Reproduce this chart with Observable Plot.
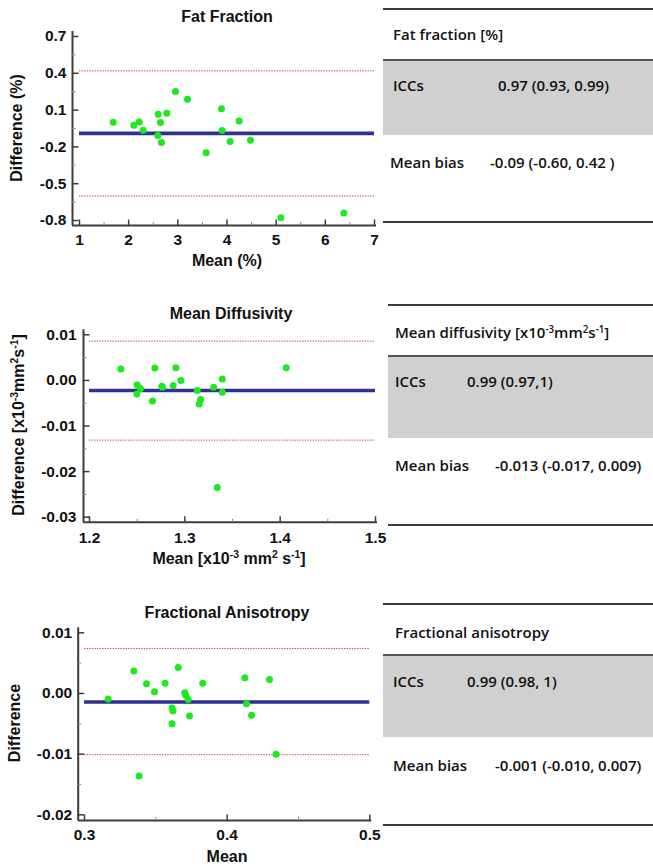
<!DOCTYPE html>
<html>
<head>
<meta charset="utf-8">
<script src="https://cdn.jsdelivr.net/npm/d3@7"></script>
<script src="https://cdn.jsdelivr.net/npm/@observablehq/plot@0.6"></script>
<style>
  html, body { margin: 0; padding: 0; background: #fff; }
  #root { position: relative; width: 653px; height: 866px; background: #fff; overflow: hidden; }
  .lbl { position: absolute; font-family: "Liberation Sans", Arial, sans-serif; font-weight: bold; color: #111; white-space: nowrap; transform: translate(-50%, -50%); }
  .rot { transform: translate(-50%, -50%) rotate(-90deg); }
  .tbl { position: absolute; font-family: "Open Sans", "Noto Sans", sans-serif; font-weight: 600; font-size: 15px; color: #111; white-space: nowrap; }
  .rule { position: absolute; height: 2px; background: #3a3a3a; }
  .band { position: absolute; background: #d0d0d0; border-top: 2px solid #555; box-sizing: border-box; }
  sup { font-size: 0.65em; vertical-align: 0.55em; line-height: 0; }
</style>
</head>
<body>
<div id="root"></div>
<script>
// ---------- Data ----------
// Fat fraction (%)
const ffMean = [1.685, 2.105, 2.214, 2.295, 2.600, 2.593, 2.647, 2.668, 2.776, 2.953, 3.197, 3.576, 3.888, 3.902, 4.064, 4.247, 4.478, 5.095, 6.376];
const ffDiff = [0.000, -0.023, 0.004, -0.064, 0.067, -0.107, -0.001, -0.164, 0.075, 0.252, 0.189, -0.248, 0.110, -0.066, -0.156, 0.012, -0.145, -0.778, -0.738];
const ffLines = {bias: -0.09, upper: 0.42, lower: -0.60};
const ffXTicks = [1, 2, 3, 4, 5, 6, 7];
const ffXMinor = [1.5, 2.5, 3.5, 4.5, 5.5, 6.5];
const ffYTicks = [0.7, 0.4, 0.1, -0.2, -0.5, -0.8];
const ffYMinor = [0.55, 0.25, -0.05, -0.35, -0.65];

// Mean diffusivity
const mdMean = [1.2329, 1.2500, 1.2497, 1.2535, 1.2661, 1.2686, 1.2759, 1.2766, 1.2878, 1.2906, 1.2959, 1.3130, 1.3165, 1.3151, 1.3302, 1.3393, 1.3393, 1.3340, 1.4064];
const mdDiff = [0.0025, -0.0010, -0.0030, -0.0018, -0.0045, 0.0027, -0.0013, -0.0015, -0.0011, 0.0028, 0.0000, -0.0022, -0.0042, -0.0052, -0.0015, 0.0003, -0.0026, -0.0235, 0.0028];
const mdLines = {bias: -0.0022, upper: 0.0086, lower: -0.0131};
const mdXTicks = [1.2, 1.3, 1.4, 1.5];
const mdXMinor = [1.25, 1.35, 1.45];
const mdYTicks = [0.01, 0.00, -0.01, -0.02, -0.03];
const mdYMinor = [0.005, -0.005, -0.015, -0.025];

// Fractional anisotropy
const faMean = [0.3166, 0.3346, 0.3383, 0.3435, 0.3491, 0.3565, 0.3614, 0.3621, 0.3614, 0.3657, 0.3703, 0.3710, 0.3727, 0.3736, 0.3829, 0.4124, 0.4136, 0.4171, 0.4297, 0.4343];
const faDiff = [-0.0009, 0.0037, -0.0136, 0.0016, 0.0003, 0.0017, -0.0024, -0.0029, -0.0050, 0.0043, 0.0001, -0.0003, -0.0010, -0.0037, 0.0017, 0.0026, -0.0017, -0.0036, 0.0023, -0.0100];
const faLines = {bias: -0.0014, upper: 0.0074, lower: -0.0101};
const faXTicks = [0.3, 0.4, 0.5];
const faXMinor = [0.35, 0.45];
const faYTicks = [0.01, 0.00, -0.01, -0.02];
const faYMinor = [0.005, -0.005, -0.015];

// Tables
const tableTitles = ["Fat fraction [%]", "Mean diffusivity [x10<sup>-3</sup>mm<sup>2</sup>s<sup>-1</sup>]", "Fractional anisotropy"];
const rowLabels = ["ICCs", "Mean bias"];
const iccValues = ["0.97 (0.93, 0.99)", "0.99 (0.97,1)", "0.99 (0.98, 1)"];
const biasValues = ["-0.09 (-0.60, 0.42 )", "-0.013 (-0.017, 0.009)", "-0.001 (-0.010, 0.007)"];

// ---------- Drawing ----------
const root = document.getElementById("root");

function chart(c) {
  const data = c.mean.map((m, i) => ({m, d: c.diff[i]}));
  const x0 = c.xDomain[0], y0 = c.yDomain[0];
  const axisColor = "#3c3c3c";
  return Plot.plot({
    width: c.width, height: c.height,
    marginLeft: c.mL, marginRight: c.mR, marginTop: c.mT, marginBottom: c.mB,
    x: {domain: c.xDomain, axis: null},
    y: {domain: c.yDomain, axis: null},
    style: {fontFamily: "'Liberation Sans', Arial, sans-serif", fontSize: "15.5px", fontWeight: "bold", color: "#111", background: "transparent", overflow: "visible"},
    marks: [
      Plot.ruleY([c.lines.upper, c.lines.lower], {stroke: "#c0504d", strokeWidth: 1, strokeDasharray: "1.4,1.2"}),
      Plot.ruleY([c.lines.bias], {stroke: "#2e3192", strokeWidth: 3.6}),
      // axis lines
      Plot.ruleX([x0], {dx: -c.ax, insetTop: -5, insetBottom: -c.ay, stroke: axisColor, strokeWidth: 2}),
      Plot.ruleY([y0], {dy: c.ay, insetLeft: -c.ax, insetRight: -2, stroke: axisColor, strokeWidth: 2}),
      // y ticks (inward)
      Plot.ruleY(c.yTicks, {x1: x0, x2: x0, dx: -c.ax, insetRight: -6.5, stroke: axisColor, strokeWidth: 1.5}),
      Plot.ruleY(c.yMinor, {x1: x0, x2: x0, dx: -c.ax, insetRight: -3.5, stroke: "#888", strokeWidth: 1}),
      // x ticks (inward)
      Plot.ruleX(c.xTicks, {y1: y0, y2: y0, dy: c.ay, insetBottom: 5.5, stroke: axisColor, strokeWidth: 1.5}),
      Plot.ruleX(c.xMinor, {y1: y0, y2: y0, dy: c.ay, insetBottom: 3, stroke: "#888", strokeWidth: 1}),
      Plot.axisY({ticks: c.yTicks, anchor: "left", tickSize: 0, tickPadding: c.yPad, tickFormat: c.yFmt, label: null}),
      Plot.axisX({ticks: c.xTicks, anchor: "bottom", tickSize: 0, tickPadding: c.xPad, tickFormat: c.xFmt, label: null}),
      Plot.dot(data, {x: "m", y: "d", r: 3.5, fill: "#1ee81e", stroke: "none"})
    ]
  });
}

function place(el, left, top) {
  el.style.position = "absolute";
  el.style.left = left + "px";
  el.style.top = top + "px";
  root.appendChild(el);
}
function label(html, x, y, size, rotate) {
  const d = document.createElement("div");
  d.className = "lbl" + (rotate ? " rot" : "");
  d.style.left = x + "px"; d.style.top = y + "px";
  d.style.fontSize = size + "px";
  d.innerHTML = html;
  root.appendChild(d);
}

// Chart 1: Fat fraction
place(chart({
  mean: ffMean, diff: ffDiff, lines: ffLines,
  xDomain: [1, 7], yDomain: [-0.8, 0.7],
  xTicks: ffXTicks, xMinor: ffXMinor, yTicks: ffYTicks, yMinor: ffYMinor,
  xFmt: d => d.toFixed(0), yFmt: d => d.toFixed(1),
  width: 380, height: 250, mL: 79, mR: 6, mT: 36, mB: 30,
  ax: 7, ay: 5, xPad: 13, yPad: 13
}), 0, 0);
label("Fat Fraction", 227, 17, 16);
label("Mean (%)", 227, 261, 16);
label("Difference (%)", 17, 128, 16, true);

// Chart 2: Mean diffusivity
place(chart({
  mean: mdMean, diff: mdDiff, lines: mdLines,
  xDomain: [1.2, 1.5], yDomain: [-0.03, 0.01],
  xTicks: mdXTicks, xMinor: mdXMinor, yTicks: mdYTicks, yMinor: mdYMinor,
  xFmt: d => d.toFixed(1), yFmt: d => d.toFixed(2),
  width: 380, height: 260, mL: 89, mR: 5, mT: 44.3, mB: 33.3,
  ax: 6, ay: 5, xPad: 14.5, yPad: 13
}), 0, 290);
label("Mean Diffusivity", 231, 314, 16);
label("Mean [x10<sup>-3</sup> mm<sup>2</sup> s<sup>-1</sup>]", 229, 559, 16);
label("Difference [x10<sup>-3</sup>mm<sup>2</sup>s<sup>-1</sup>]", 19, 425, 16, true);

// Chart 3: Fractional anisotropy
place(chart({
  mean: faMean, diff: faDiff, lines: faLines,
  xDomain: [0.3, 0.5], yDomain: [-0.02, 0.01],
  xTicks: faXTicks, xMinor: faXMinor, yTicks: faYTicks, yMinor: faYMinor,
  xFmt: d => d.toFixed(1), yFmt: d => d.toFixed(2),
  width: 380, height: 250, mL: 84, mR: 10.7, mT: 42.3, mB: 25.7,
  ax: 6.3, ay: 5.7, xPad: 14, yPad: 12.3
}), 0, 590);
label("Fractional Anisotropy", 227, 613, 16);
label("Mean", 227, 857, 16);
label("Difference", 15, 723, 16, true);

// Tables
const tableLayout = [
  {top: 9, bandTop: 60, bandBottom: 135, bottom: 222, left: 383, header: 35, hx: 393, icc: 86, ix: 393, ivx: 498, bias: 163, bx: 390, bvx: 490},
  {top: 305, bandTop: 356, bandBottom: 438, bottom: 525, left: 388, header: 333, hx: 395, icc: 382, ix: 395, ivx: 467, bias: 466, bx: 395, bvx: 495},
  {top: 604, bandTop: 655, bandBottom: 737, bottom: 825, left: 383, header: 633, hx: 395, icc: 682, ix: 393, ivx: 467, bias: 766, bx: 393, bvx: 495}
];
function tdiv(cls, css, html) {
  const d = document.createElement("div");
  d.className = cls;
  Object.assign(d.style, css);
  if (html != null) d.innerHTML = html;
  root.appendChild(d);
  return d;
}
tableLayout.forEach((t, i) => {
  tdiv("rule", {left: t.left + "px", top: (t.top - 1) + "px", width: (653 - t.left) + "px"});
  tdiv("band", {left: t.left + "px", top: (t.bandTop - 1) + "px", width: (653 - t.left) + "px", height: (t.bandBottom - t.bandTop + 1) + "px"});
  tdiv("rule", {left: t.left + "px", top: (t.bottom - 1) + "px", width: (653 - t.left) + "px"});
  tdiv("tbl", {left: t.hx + "px", top: (t.header - 11) + "px"}, tableTitles[i]);
  tdiv("tbl", {left: t.ix + "px", top: (t.icc - 11) + "px"}, rowLabels[0]);
  tdiv("tbl", {left: t.ivx + "px", top: (t.icc - 11) + "px"}, iccValues[i]);
  tdiv("tbl", {left: t.bx + "px", top: (t.bias - 11) + "px"}, rowLabels[1]);
  tdiv("tbl", {left: t.bvx + "px", top: (t.bias - 11) + "px"}, biasValues[i]);
});
</script>
</body>
</html>
